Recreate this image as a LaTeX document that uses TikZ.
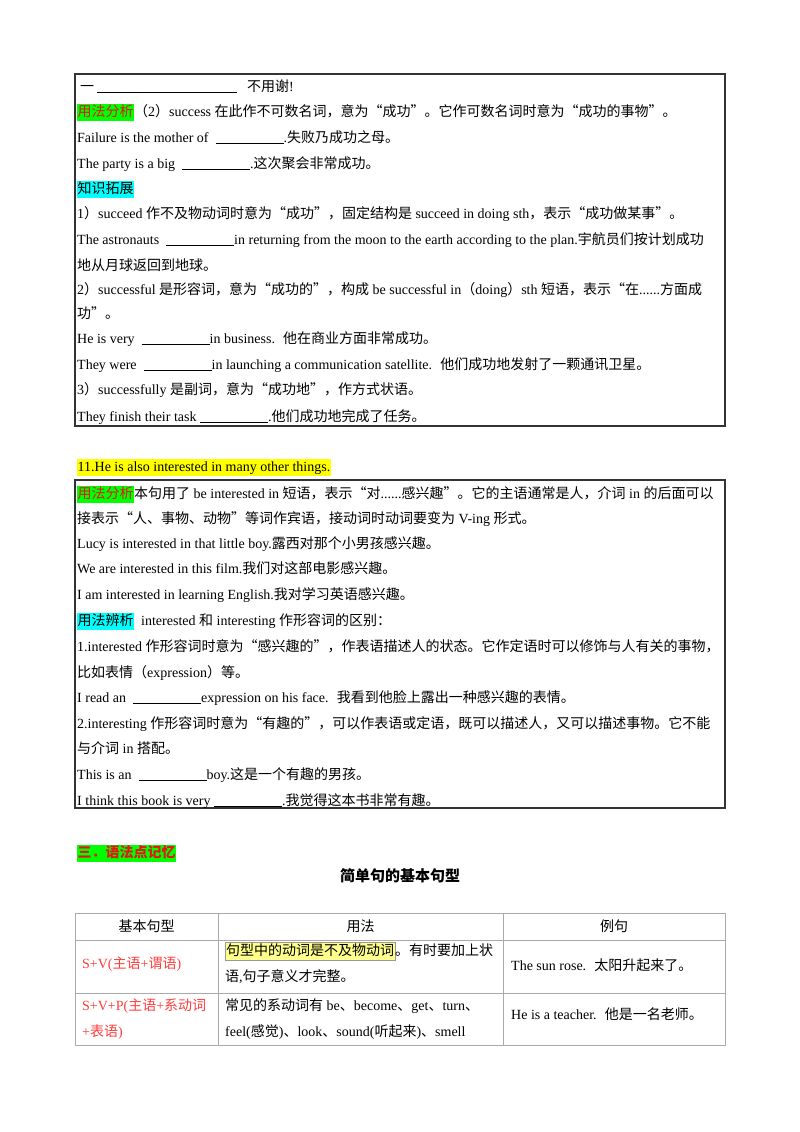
\documentclass[tikz,border=0pt]{standalone}
\usepackage{fontspec}
\setmainfont{Liberation Serif}
\newfontfamily\cjk{Noto Sans CJK SC}
\XeTeXinterchartokenstate=1
\newXeTeXintercharclass\cjkcls
\makeatletter
\def\setcls#1#2{\count@=#1\relax\loop\XeTeXcharclass\count@=\cjkcls\advance\count@ by 1\relax\ifnum\count@<#2\repeat}
\setcls{"4E00}{"A000}
\setcls{"3000}{"3040}
\setcls{"FF00}{"FFF0}
\makeatother
\XeTeXcharclass"201C=\cjkcls
\XeTeXcharclass"201D=\cjkcls
\XeTeXinterchartoks 0 \cjkcls = {\cjk}
\XeTeXinterchartoks 4095 \cjkcls = {\cjk}
\XeTeXinterchartoks \cjkcls 0 = {\rmfamily}
\XeTeXinterchartoks \cjkcls 4095 = {\rmfamily}
\definecolor{hlgreen}{RGB}{0,255,0}
\definecolor{hlcyan}{RGB}{0,255,255}
\definecolor{hlyellow}{RGB}{255,255,0}
\definecolor{hlpale}{RGB}{255,255,140}
\definecolor{redt}{RGB}{230,20,20}
\definecolor{redtab}{RGB}{255,60,60}
\definecolor{tabline}{RGB}{170,170,170}
\newcommand\hl[2]{{\setlength\fboxsep{0.5pt}\colorbox{#1}{\strut #2}}}
\newcommand\bl[1]{\rule[-2pt]{#1pt}{0.8pt}}
\newcommand\Ln[2]{\node[txt] (n#1) at (77,#1) {#2};}
\tikzset{txt/.style={anchor=base west,inner sep=0pt,font=\fontsize{14}{16}\selectfont},
 box/.style={draw=black!80,line width=1.2pt},
 tab/.style={draw=tabline,line width=0.7pt}}
\begin{document}
\begin{tikzpicture}[x=1pt,y=-1pt]
\useasboundingbox[fill=white] (0,0) rectangle (800,1132);
% box 1
\draw[box] (75,74) rectangle (725,426);
\Ln{91}{\hspace{3pt}一\,\bl{140} \ \ 不用谢!}
\Ln{116}{\hl{hlgreen}{\textcolor{redt}{用法分析}}（2）success 在此作不可数名词，意为“成功”。它作可数名词时意为“成功的事物”。}
\Ln{142}{Failure is the mother of \ \bl{68}.失败乃成功之母。}
\Ln{168}{The party is a big \ \bl{68}.这次聚会非常成功。}
\Ln{193}{\hl{hlcyan}{知识拓展}}
\Ln{218}{1）succeed 作不及物动词时意为“成功”，固定结构是 succeed in doing sth，表示“成功做某事”。}
\Ln{244}{The astronauts \ \bl{68}in returning from the moon to the earth according to the plan.宇航员们按计划成功}
\Ln{270}{地从月球返回到地球。}
\Ln{294}{2）successful 是形容词，意为“成功的”，构成 be successful in（doing）sth 短语，表示“在......方面成}
\Ln{318}{功”。}
\Ln{343}{He is very \ \bl{68}in business. \ 他在商业方面非常成功。}
\Ln{369}{They were \ \bl{68}in launching a communication satellite. \ 他们成功地发射了一颗通讯卫星。}
\Ln{394}{3）successfully 是副词，意为“成功地”，作方式状语。}
\Ln{421}{They finish their task \bl{68}.他们成功地完成了任务。}
% heading 11
\Ln{471}{\hl{hlyellow}{11.He is also interested in many other things.}}
% box 2
\draw[box] (75,480) rectangle (725,808);
\Ln{498}{\hl{hlgreen}{\textcolor{redt}{用法分析}}本句用了 be interested in 短语，表示“对......感兴趣”。它的主语通常是人，介词 in 的后面可以}
\Ln{523}{接表示“人、事物、动物”等词作宾语，接动词时动词要变为 V-ing 形式。}
\Ln{548}{Lucy is interested in that little boy.露西对那个小男孩感兴趣。}
\Ln{573}{We are interested in this film.我们对这部电影感兴趣。}
\Ln{599}{I am interested in learning English.我对学习英语感兴趣。}
\Ln{625}{\hl{hlcyan}{用法辨析} \ interested 和 interesting 作形容词的区别：}
\Ln{651}{1.interested 作形容词时意为“感兴趣的”，作表语描述人的状态。它作定语时可以修饰与人有关的事物，}
\Ln{677}{比如表情（expression）等。}
\Ln{702}{I read an \ \bl{68}expression on his face. \ 我看到他脸上露出一种感兴趣的表情。}
\Ln{728}{2.interesting 作形容词时意为“有趣的”，可以作表语或定语，既可以描述人，又可以描述事物。它不能}
\Ln{753}{与介词 in 搭配。}
\Ln{779}{This is an \ \bl{68}boy.这是一个有趣的男孩。}
\Ln{805}{I think this book is very \bl{68}.我觉得这本书非常有趣。}
% section
\node[txt,font=\fontsize{14}{16}\selectfont\bfseries] (sec) at (77,857) {\hl{hlgreen}{\textcolor{redt}{三．语法点记忆}}};
\node[inner sep=0pt,font=\fontsize{15}{17}\selectfont\bfseries] (title) at (400,876) {简单句的基本句型};
% table
\draw[tab] (75,913) rectangle (725,1045);
\draw[tab] (75,940) -- (725,940) (75,993) -- (725,993);
\draw[tab] (218,913) -- (218,1045) (503,913) -- (503,1045);
\node[inner sep=0pt,font=\fontsize{14}{16}\selectfont] (h1) at (146.5,926) {基本句型};
\node[inner sep=0pt,font=\fontsize{14}{16}\selectfont] (h2) at (360.5,926) {用法};
\node[inner sep=0pt,font=\fontsize{14}{16}\selectfont] (h3) at (614,926) {例句};
\node[txt,text=redtab] (r1a) at (82,968) {S+V(主语+谓语)};
\node[txt] (r1b) at (225,955) {{\setlength\fboxsep{0.5pt}\fcolorbox{black!40}{hlpale}{\strut 句型中的动词是不及物动词}}。有时要加上状};
\node[txt] (r1c) at (225,981) {语,句子意义才完整。};
\node[txt] (r1d) at (511,970) {The sun rose. \ 太阳升起来了。};
\node[txt,text=redtab] (r2a) at (82,1010) {S+V+P(主语+系动词};
\node[txt,text=redtab] (r2b) at (82,1036) {+表语)};
\node[txt] (r2c) at (225,1010) {常见的系动词有 be、become、get、turn、};
\node[txt] (r2d) at (225,1036) {feel(感觉)、look、sound(听起来)、smell};
\node[txt] (r2e) at (511,1019) {He is a teacher. \ 他是一名老师。};
\end{tikzpicture}
\end{document}
